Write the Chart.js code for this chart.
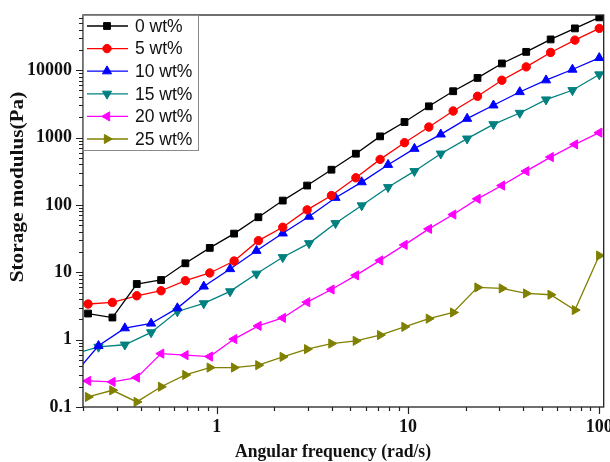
<!DOCTYPE html>
<html>
<head>
<meta charset="utf-8">
<script src="https://cdn.jsdelivr.net/npm/chart.js@4.4.1/dist/chart.umd.min.js"></script>
<style>
    html, body { margin: 0; padding: 0; background: #fff; }
</style>
</head>
<body>
<canvas id="graficaModulo" width="610" height="462"></canvas>
<script>
// frecuencias (rad/s): 0, 5, 20, 25 wt% comparten barrido; 10 y 15 wt% otro
const freqA = [0.2125, 0.285, 0.382, 0.512, 0.686, 0.92, 1.233, 1.652, 2.215, 2.97, 3.98,
               5.34, 7.15, 9.59, 12.86, 17.23, 23.1, 30.97, 41.5, 55.7, 74.6, 100];
const freqB = [0.175, 0.241, 0.331, 0.454, 0.623, 0.856, 1.175, 1.614, 2.215, 3.04, 4.18,
               5.73, 7.87, 10.81, 14.84, 20.38, 27.98, 38.41, 52.7, 72.4, 100];

// G' (Pa)
const g0  = [2.44, 2.13, 6.7, 7.68, 13.6, 23.0, 37.5, 65.6, 116, 194, 333,
             576, 1042, 1702, 2912, 4873, 7680, 12590, 18710, 28640, 41760, 60800];
const g5  = [3.38, 3.57, 4.48, 5.32, 7.5, 9.77, 14.7, 29.5, 46.6, 84.5, 138,
             253, 474, 839, 1432, 2478, 4103, 7100, 11200, 18340, 27950, 41760];
const g10 = [0.28, 0.81, 1.48, 1.74, 2.94, 6.17, 11.2, 20.9, 37.9, 67.2, 128,
             218, 395, 684, 1117, 1910, 3014, 4753, 7100, 10240, 15240];
const g15 = [0.6, 0.78, 0.84, 1.28, 2.62, 3.45, 5.2, 9.5, 16.7, 26.9, 53.4,
             98, 183, 317, 576, 963, 1572, 2317, 3664, 5037, 8630];
const g20 = [0.244, 0.236, 0.273, 0.62, 0.588, 0.561, 1.02, 1.6, 2.1, 3.6, 5.55,
             9.0, 15.0, 25.5, 44.1, 72, 123, 194, 317, 513, 792, 1183];
const g25 = [0.141, 0.177, 0.119, 0.2, 0.299, 0.385, 0.385, 0.418, 0.555, 0.723, 0.875,
             0.96, 1.17, 1.55, 2.05, 2.53, 5.96, 5.76, 4.85, 4.64, 2.75, 17.7];

const etiquetas = ["0 wt%", "5 wt%", "10 wt%", "15 wt%", "20 wt%", "25 wt%"];

const xTicks = [1, 10, 100];
const yTicks = [0.1, 1, 10, 100, 1000, 10000];

const xTitulo = "Angular frequency (rad/s)";
const yTitulo = "Storage modulus(Pa)";

const X_MIN = 0.2, X_MAX = 105.5;
const Y_MIN = 0.1, Y_MAX = 66000;

const fuenteEje = { family: '"Liberation Serif", "Times New Roman", serif', size: 18, weight: 'bold' };

function serie(label, xs, ys, color, estilo, giro, radio) {
    return {
        label: label,
        data: xs.map((x, i) => ({ x: x, y: ys[i] })),
        showLine: true,
        borderColor: color,
        backgroundColor: color,
        borderWidth: 1.3,
        pointStyle: estilo,
        pointRotation: giro,
        pointRadius: radio,
        pointHoverRadius: radio,
        pointBackgroundColor: color,
        pointBorderColor: color,
        pointBorderWidth: 1
    };
}

// marcas mayores + menores (2..9) de cada década
function marcasLog(mayores, min, max) {
    const out = [];
    mayores.concat([mayores[mayores.length - 1] * 10]).forEach(m => {
        for (let k = 1; k <= 9; k++) {
            const v = k === 1 ? m : m * k;
            if (v >= min && v <= max) out.push({ value: v });
        }
    });
    return out;
}

/* =========================
   MARCO Y MARCAS DE EJE
========================= */
const marco = {
    id: 'marco',
    afterDatasetsDraw(chart) {
        const { ctx, chartArea: a, scales } = chart;
        ctx.save();
        ctx.strokeStyle = '#222';
        ctx.lineWidth = 1.3;
        ctx.strokeRect(a.left, a.top, a.right - a.left, a.bottom - a.top);

        ctx.lineWidth = 1.2;
        ctx.beginPath();
        scales.x.ticks.forEach(t => {
            const px = Math.round(scales.x.getPixelForValue(t.value)) + 0.5;
            const largo = xTicks.includes(t.value) ? 7 : 4;
            ctx.moveTo(px, a.bottom);
            ctx.lineTo(px, a.bottom + largo);
        });
        scales.y.ticks.forEach(t => {
            const py = Math.round(scales.y.getPixelForValue(t.value)) + 0.5;
            const largo = yTicks.includes(t.value) ? 7 : 4;
            ctx.moveTo(a.left, py);
            ctx.lineTo(a.left - largo, py);
        });
        ctx.stroke();
        ctx.restore();
    }
};

/* =========================
   TÍTULOS Y LEYENDA
========================= */
const textos = {
    id: 'textos',
    afterDraw(chart) {
        const { ctx, chartArea: a } = chart;
        ctx.save();
        ctx.fillStyle = '#111';
        ctx.textAlign = 'center';
        ctx.textBaseline = 'middle';

        ctx.save();
        ctx.translate(333, 452);
        ctx.scale(1, 1.12);
        ctx.font = 'bold 17.6px "Liberation Serif", "Times New Roman", serif';
        ctx.fillText(xTitulo, 0, 0);
        ctx.restore();

        ctx.save();
        ctx.translate(18, 187);
        ctx.scale(1, 1.18);
        ctx.rotate(-Math.PI / 2);
        ctx.font = 'bold 18px "Liberation Serif", "Times New Roman", serif';
        ctx.fillText(yTitulo, 0, 0);
        ctx.restore();

        // leyenda en la esquina superior izquierda
        const bx = a.left, by = a.top, bw = 115, bh = 135;
        ctx.fillStyle = '#fff';
        ctx.fillRect(bx, by, bw, bh);
        ctx.strokeStyle = '#8a8a8a';
        ctx.lineWidth = 1;
        ctx.strokeRect(bx + 0.5, by + 0.5, bw, bh);

        chart.data.datasets.forEach((ds, i) => {
            const y = by + 11 + i * 22.6;
            ctx.strokeStyle = ds.borderColor;
            ctx.lineWidth = ds.borderWidth;
            ctx.beginPath();
            ctx.moveTo(bx + 4, y);
            ctx.lineTo(bx + 45, y);
            ctx.stroke();

            ctx.fillStyle = ds.pointBackgroundColor;
            ctx.strokeStyle = ds.pointBorderColor;
            ctx.lineWidth = ds.pointBorderWidth;
            Chart.helpers.drawPoint(ctx, {
                pointStyle: ds.pointStyle,
                rotation: ds.pointRotation,
                radius: ds.pointRadius,
                borderWidth: ds.pointBorderWidth
            }, bx + 24, y);

            ctx.fillStyle = '#111';
            ctx.font = '17.5px "Liberation Sans", Arial, sans-serif';
            ctx.textAlign = 'left';
            ctx.fillText(ds.label, bx + 52, y + 1);
        });
        ctx.restore();
    }
};

const datasets = [
    serie(etiquetas[0], freqA, g0,  '#000000', 'rect', 0, 4.8),
    serie(etiquetas[1], freqA, g5,  '#ff0000', 'circle', 0, 4.2),
    serie(etiquetas[2], freqB, g10, '#0000ff', 'triangle', 0, 5.3),
    serie(etiquetas[3], freqB, g15, '#008080', 'triangle', 180, 5.3),
    serie(etiquetas[4], freqA, g20, '#ff00ff', 'triangle', 270, 5.3),
    serie(etiquetas[5], freqA, g25, '#808000', 'triangle', 90, 5.3)
];

new Chart(document.getElementById('graficaModulo'), {
    type: 'scatter',
    data: { datasets: datasets },
    options: {
        responsive: false,
        animation: false,
        layout: { padding: { top: 15, right: 3, left: 0, bottom: 0 } },
        plugins: {
            legend: { display: false },
            tooltip: { enabled: false }
        },
        scales: {
            x: {
                type: 'logarithmic',
                min: X_MIN,
                max: X_MAX,
                grid: { display: false, drawTicks: false },
                border: { display: false },
                ticks: {
                    font: fuenteEje,
                    color: '#111',
                    padding: 10,
                    autoSkip: false,
                    maxRotation: 0,
                    callback: (v) => xTicks.includes(v) ? String(v) : ''
                },
                afterBuildTicks: (s) => { s.ticks = marcasLog(xTicks.map(v => v / 10), X_MIN, X_MAX); },
                afterFit: (s) => { s.height = 55; s.paddingLeft = 0; s.paddingRight = 0; }
            },
            y: {
                type: 'logarithmic',
                min: Y_MIN,
                max: Y_MAX,
                grid: { display: false, drawTicks: false },
                border: { display: false },
                ticks: {
                    font: fuenteEje,
                    color: '#111',
                    padding: 11,
                    autoSkip: false,
                    callback: (v) => yTicks.includes(v) ? String(v) : ''
                },
                afterBuildTicks: (s) => { s.ticks = marcasLog(yTicks, Y_MIN, Y_MAX); },
                afterFit: (s) => { s.width = 83; s.paddingTop = 0; s.paddingBottom = 0; }
            }
        }
    },
    plugins: [marco, textos]
});
</script>
</body>
</html>
